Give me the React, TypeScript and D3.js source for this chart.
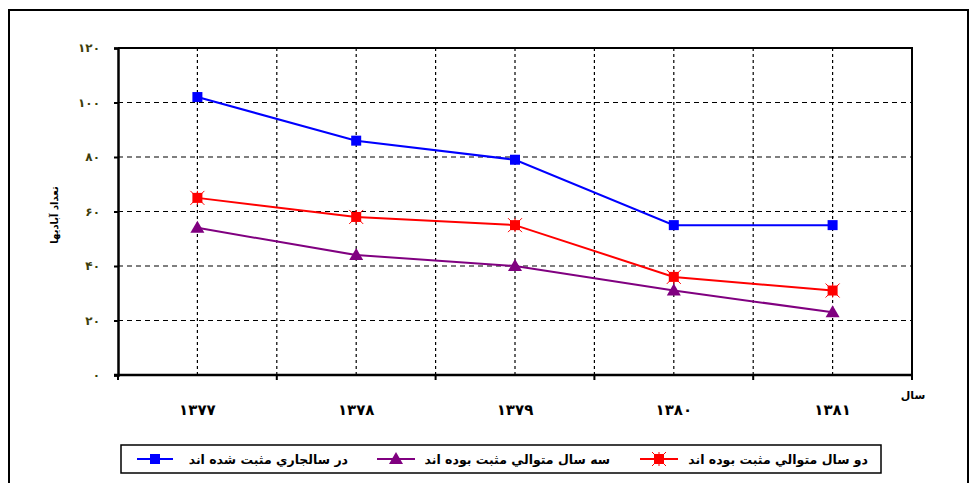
import React, { useEffect, useRef } from "react";
import * as d3 from "d3";

const years = ["1377", "1378", "1379", "1380", "1381"];
const positiveThisYear = [102, 86, 79, 55, 55];
const threeYearsPositive = [54, 44, 40, 31, 23];
const twoYearsPositive = [65, 58, 55, 36, 31];

const seriesNames = [
  "در سالجاري مثبت شده اند",
  "سه سال متوالي مثبت بوده اند",
  "دو سال متوالي مثبت بوده اند",
];
const yTitle = "تعداد آبادیها";
const xTitle = "سال";

const faDigits = "۰۱۲۳۴۵۶۷۸۹";
const toFa = (v) => String(v).replace(/[0-9]/g, (c) => faDigits[+c]);

const App = () => {
  const chartRef = useRef(null);
  const width = 975;
  const height = 483;
  const marginTop = 48;
  const marginRight = 63;
  const marginBottom = 108;
  const marginLeft = 118;
  const font = "'DejaVu Sans', Tahoma, sans-serif";

  useEffect(() => {
    if (!chartRef.current) return;
    const svg = d3.select(chartRef.current);
    svg.selectAll("*").remove();

    const x = d3
      .scaleBand()
      .domain(years)
      .range([marginLeft, width - marginRight])
      .padding(0);
    const cx = (d) => x(d) + x.bandwidth() / 2;
    const y = d3.scaleLinear([0, 120], [height - marginBottom, marginTop]);

    // outer frame
    svg
      .append("rect")
      .attr("x", 9)
      .attr("y", 10)
      .attr("width", 959)
      .attr("height", 490)
      .attr("fill", "#fff")
      .attr("stroke", "#000")
      .attr("stroke-width", 2);

    // horizontal grid lines
    svg
      .append("g")
      .selectAll("line")
      .data(d3.range(20, 120, 20))
      .join("line")
      .attr("x1", marginLeft)
      .attr("x2", width - marginRight)
      .attr("y1", (d) => y(d))
      .attr("y2", (d) => y(d))
      .attr("stroke", "#000")
      .attr("stroke-width", 1.2)
      .attr("stroke-dasharray", "5,4");

    // vertical grid lines: every half category
    const half = x.bandwidth() / 2;
    const vgrid = d3.range(1, years.length * 2).map((i) => marginLeft + i * half);
    svg
      .append("g")
      .selectAll("line")
      .data(vgrid)
      .join("line")
      .attr("x1", (d) => d)
      .attr("x2", (d) => d)
      .attr("y1", marginTop)
      .attr("y2", height - marginBottom)
      .attr("stroke", "#000")
      .attr("stroke-width", 1.2)
      .attr("stroke-dasharray", "3,3");

    // plot border (top and right)
    svg
      .append("path")
      .attr(
        "d",
        `M${marginLeft},${marginTop}H${width - marginRight}V${height - marginBottom}`
      )
      .attr("fill", "none")
      .attr("stroke", "#000")
      .attr("stroke-width", 2);

    // y axis
    svg
      .append("g")
      .attr("transform", `translate(${marginLeft},0)`)
      .call(
        d3
          .axisLeft(y)
          .tickValues(d3.range(0, 121, 20))
          .tickSize(4)
          .tickPadding(14)
          .tickFormat((d) => toFa(d))
      )
      .call((g) => g.select(".domain").attr("stroke-width", 2.5))
      .call((g) => g.selectAll(".tick line").attr("stroke-width", 2))
      .call((g) =>
        g
          .selectAll(".tick text")
          .attr("font-family", font)
          .attr("font-weight", "bold")
          .attr("font-size", 12)
          .attr("fill", "#3d3d0a")
      );

    // x axis
    const boundaries = d3.range(0, years.length + 1).map((i) => marginLeft + i * x.bandwidth());
    svg
      .append("line")
      .attr("x1", marginLeft - 4)
      .attr("x2", width - marginRight)
      .attr("y1", height - marginBottom)
      .attr("y2", height - marginBottom)
      .attr("stroke", "#000")
      .attr("stroke-width", 2.5);
    svg
      .append("g")
      .selectAll("line")
      .data(boundaries)
      .join("line")
      .attr("x1", (d) => d)
      .attr("x2", (d) => d)
      .attr("y1", height - marginBottom)
      .attr("y2", height - marginBottom + 5)
      .attr("stroke", "#000")
      .attr("stroke-width", 2);
    svg
      .append("g")
      .selectAll("text")
      .data(years)
      .join("text")
      .attr("x", (d) => cx(d))
      .attr("y", 415)
      .attr("text-anchor", "middle")
      .attr("font-family", font)
      .attr("font-weight", "bold")
      .attr("font-size", 15)
      .attr("fill", "#000")
      .text((d) => toFa(d));

    // axis titles
    svg
      .append("text")
      .attr("x", 913)
      .attr("y", 399)
      .attr("text-anchor", "middle")
      .attr("font-family", font)
      .attr("font-weight", "bold")
      .attr("font-size", 11)
      .text(xTitle);
    svg
      .append("text")
      .attr("transform", `translate(58,215) rotate(-90)`)
      .attr("text-anchor", "middle")
      .attr("font-family", font)
      .attr("font-weight", "bold")
      .attr("font-size", 10)
      .attr("direction", "rtl")
      .text(yTitle);

    const series = [
      { values: positiveThisYear, color: "#0000ff", marker: "square" },
      { values: threeYearsPositive, color: "#800080", marker: "triangle" },
      { values: twoYearsPositive, color: "#ff0000", marker: "star" },
    ];

    const line = d3
      .line()
      .x((d, i) => cx(years[i]))
      .y((d) => y(d));

    const drawMarker = (g, kind, color, px, py) => {
      if (kind === "square") {
        g.append("rect")
          .attr("x", px - 5)
          .attr("y", py - 5)
          .attr("width", 10)
          .attr("height", 10)
          .attr("fill", color);
      } else if (kind === "triangle") {
        g.append("path")
          .attr("d", `M${px},${py - 7}L${px + 7},${py + 5}L${px - 7},${py + 5}Z`)
          .attr("fill", color);
      } else {
        g.append("rect")
          .attr("x", px - 5)
          .attr("y", py - 5)
          .attr("width", 10)
          .attr("height", 10)
          .attr("fill", color);
        g.append("path")
          .attr(
            "d",
            `M${px - 7},${py - 7}L${px + 7},${py + 7}M${px + 7},${py - 7}L${px - 7},${py + 7}M${px},${py - 7}V${py + 7}`
          )
          .attr("stroke", color)
          .attr("stroke-width", 1);
      }
    };

    series.forEach((s) => {
      svg
        .append("path")
        .attr("fill", "none")
        .attr("stroke", s.color)
        .attr("stroke-width", 2)
        .attr("d", line(s.values));
      const g = svg.append("g");
      s.values.forEach((v, i) => drawMarker(g, s.marker, s.color, cx(years[i]), y(v)));
    });

    // legend
    const legend = svg.append("g");
    legend
      .append("rect")
      .attr("x", 121)
      .attr("y", 445)
      .attr("width", 760)
      .attr("height", 28)
      .attr("fill", "#fff")
      .attr("stroke", "#000")
      .attr("stroke-width", 1.5);
    const legendItems = [
      { x1: 137, x2: 173, textRight: 348 },
      { x1: 377, x2: 415, textRight: 610 },
      { x1: 640, x2: 678, textRight: 868 },
    ];
    legendItems.forEach((it, i) => {
      const s = series[i];
      const ly = 459;
      legend
        .append("line")
        .attr("x1", it.x1)
        .attr("x2", it.x2)
        .attr("y1", ly)
        .attr("y2", ly)
        .attr("stroke", s.color)
        .attr("stroke-width", 2);
      drawMarker(legend, s.marker, s.color, (it.x1 + it.x2) / 2, ly);
      legend
        .append("text")
        .attr("x", it.textRight)
        .attr("y", ly + 5)
        .attr("text-anchor", "start")
        .attr("direction", "rtl")
        .attr("font-family", font)
        .attr("font-weight", "bold")
        .attr("font-size", 12.5)
        .text(seriesNames[i]);
    });
  }, []);

  return (
    <svg
      ref={chartRef}
      width={width}
      height={height}
      viewBox={`0 0 ${width} ${height}`}
      style={{ position: "absolute", left: 0, top: 0, background: "#fff" }}
    />
  );
};

export default App;
